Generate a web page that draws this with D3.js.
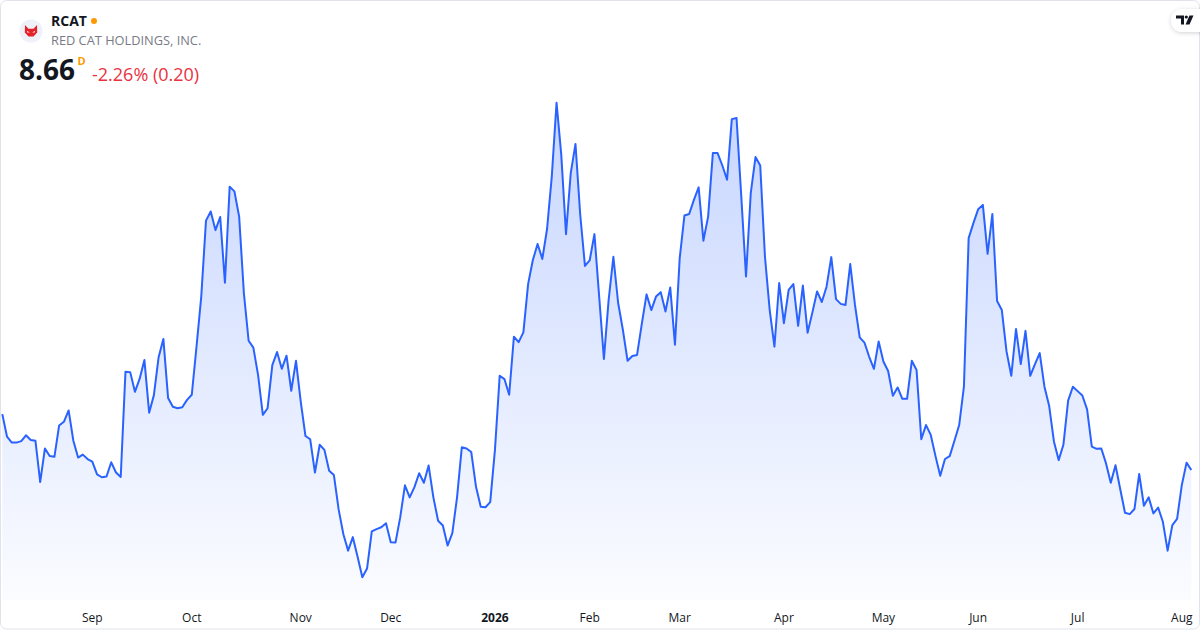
<!DOCTYPE html>
<html>
<head>
<meta charset="utf-8">
<script src="https://cdn.jsdelivr.net/npm/d3@7"></script>
<style>
  html, body { margin: 0; padding: 0; background: #ffffff; }
  svg { display: block; font-family: "Open Sans", "Noto Sans", "DejaVu Sans", sans-serif; }
</style>
</head>
<body>
<svg id="chart" width="1200" height="630"></svg>
<script>
// ---- Data (daily closes) ----
const symbol = "RCAT";
const companyName = "RED CAT HOLDINGS, INC.";
const lastPrice = "8.66";
const intervalLabel = "D";
const changeLabel = "-2.26% (0.20)";

const startDate = "2025-08-05";
const marketHolidays = ["2025-09-01","2025-11-27","2025-12-25","2026-01-01","2026-01-19",
                        "2026-02-16","2026-04-03","2026-05-25","2026-06-19","2026-07-03"];
const monthLabels = ["Jan","Feb","Mar","Apr","May","Jun","Jul","Aug","Sep","Oct","Nov","Dec"];

const closes = [
  10.19, 9.57, 9.41, 9.41, 9.45, 9.61, 9.48, 9.46, 8.33, 9.25,
  9.04, 9.02, 9.88, 9.98, 10.29, 9.46, 9.00, 9.08, 8.96, 8.89,
  8.54, 8.46, 8.48, 8.87, 8.59, 8.47, 11.35, 11.34, 10.80, 11.16,
  11.67, 10.23, 10.71, 11.75, 12.25, 10.63, 10.39, 10.35, 10.38, 10.58,
  10.72, 12.04, 13.41, 15.49, 15.74, 15.23, 15.59, 13.79, 16.42, 16.29,
  15.60, 13.50, 12.20, 12.01, 11.26, 10.17, 10.35, 11.53, 11.89, 11.43,
  11.79, 10.83, 11.65, 10.53, 9.59, 9.50, 8.59, 9.35, 9.21, 8.64,
  8.52, 7.58, 6.90, 6.45, 6.82, 6.28, 5.72, 5.96, 6.98, 7.04,
  7.09, 7.20, 6.68, 6.67, 7.36, 8.24, 7.91, 8.19, 8.57, 8.31,
  8.78, 7.91, 7.27, 7.14, 6.59, 6.93, 7.91, 9.28, 9.25, 9.15,
  8.20, 7.65, 7.64, 7.78, 9.21, 11.24, 11.15, 10.72, 12.31, 12.16,
  12.43, 13.75, 14.41, 14.85, 14.44, 15.26, 16.70, 18.72, 17.29, 15.12,
  16.79, 17.59, 15.65, 14.25, 14.40, 15.12, 13.41, 11.70, 13.32, 14.50,
  13.24, 12.50, 11.65, 11.78, 11.81, 12.66, 13.47, 13.04, 13.41, 13.53,
  13.00, 13.66, 12.09, 14.46, 15.63, 15.67, 16.06, 16.40, 14.94, 15.60,
  17.34, 17.34, 17.00, 16.61, 18.27, 18.30, 16.15, 13.96, 16.24, 17.23,
  17.00, 14.50, 13.04, 12.04, 13.78, 12.68, 13.59, 13.75, 12.61, 13.71,
  12.42, 12.97, 13.55, 13.26, 13.68, 14.49, 13.34, 13.21, 13.18, 14.30,
  13.18, 12.29, 12.15, 11.76, 11.43, 12.18, 11.63, 11.37, 10.69, 10.92,
  10.61, 10.61, 11.65, 11.40, 9.50, 9.89, 9.62, 9.04, 8.50, 8.96,
  9.04, 9.46, 9.89, 10.94, 15.01, 15.42, 15.80, 15.92, 14.58, 15.67,
  13.29, 13.04, 11.90, 11.24, 12.52, 11.56, 12.47, 11.24, 11.56, 11.86,
  10.94, 10.41, 9.44, 8.93, 9.35, 10.56, 10.94, 10.82, 10.70, 10.32,
  9.30, 9.24, 9.25, 8.84, 8.31, 8.79, 8.13, 7.49, 7.45, 7.59,
  8.55, 7.68, 7.91, 7.47, 7.63, 7.24, 6.45, 7.15, 7.32, 8.25,
  8.86, 8.66
];

// ---- Trading-day calendar ----
const holidaySet = new Set(marketHolidays);
const fmt = d3.utcFormat("%Y-%m-%d");
const dates = [];
for (let d = new Date(startDate + "T00:00:00Z"); dates.length < closes.length; d = d3.utcDay.offset(d, 1)) {
  const wd = d.getUTCDay();
  if (wd === 0 || wd === 6 || holidaySet.has(fmt(d))) continue;
  dates.push(new Date(d));
}
const data = closes.map((v, i) => ({ i, date: dates[i], value: v }));

// ---- Layout ----
const W = 1200, H = 630;
const svg = d3.select("#chart");

const x = d3.scaleLinear().domain([0, closes.length - 1]).range([2.3, 1191.3]);
const y = d3.scaleLinear().domain(d3.extent(closes)).range([577.3, 102.7]);
const areaBase = 600;

// frame
svg.append("rect")
  .attr("x", 0.5).attr("y", 0.5).attr("width", W - 1).attr("height", H - 1.5)
  .attr("rx", 6).attr("fill", "#ffffff").attr("stroke", "#e0e3eb");

const defs = svg.append("defs");
const grad = defs.append("linearGradient").attr("id", "areaGrad")
  .attr("gradientUnits", "userSpaceOnUse")
  .attr("x1", 0).attr("x2", 0).attr("y1", 102).attr("y2", areaBase);
grad.append("stop").attr("offset", "0%").attr("stop-color", "#2962ff").attr("stop-opacity", 0.26);
grad.append("stop").attr("offset", "100%").attr("stop-color", "#2962ff").attr("stop-opacity", 0.02);

const filt = defs.append("filter").attr("id", "shadow").attr("x", "-50%").attr("y", "-50%").attr("width", "200%").attr("height", "200%");
filt.append("feDropShadow").attr("dx", 0).attr("dy", 1).attr("stdDeviation", 2).attr("flood-color", "#000").attr("flood-opacity", 0.18);

// area + line
svg.append("path").datum(data)
  .attr("fill", "url(#areaGrad)")
  .attr("d", d3.area().x(d => x(d.i)).y0(areaBase).y1(d => y(d.value)));

svg.append("path").datum(data)
  .attr("fill", "none").attr("stroke", "#2962ff").attr("stroke-width", 2)
  .attr("stroke-linejoin", "round")
  .attr("d", d3.line().x(d => x(d.i)).y(d => y(d.value)));

// x-axis month labels
const ticks = data.filter((d, k) => k > 0 && d.date.getUTCMonth() !== data[k - 1].date.getUTCMonth());
svg.append("g").selectAll("text").data(ticks).join("text")
  .attr("x", d => x(d.i)).attr("y", 621.5)
  .attr("text-anchor", "middle")
  .attr("font-size", 12)
  .attr("font-weight", d => d.date.getUTCMonth() === 0 ? 700 : 400)
  .attr("fill", "#131722")
  .text(d => d.date.getUTCMonth() === 0 ? String(d.date.getUTCFullYear()) : monthLabels[d.date.getUTCMonth()]);

// ---- Header ----
const logo = svg.append("g").attr("transform", "translate(31,31)");
logo.append("circle").attr("r", 11.5).attr("fill", "#eef1f8");
logo.append("path")
  .attr("d", "M-6,-6 L-2.5,-2.2 L2.5,-2.2 L6,-6 L6.2,1.5 L2.5,5.5 L-2.5,5.5 L-6.2,1.5 Z")
  .attr("fill", "#e3222b");
logo.append("path").attr("d", "M-4.2,-0.2 L-1.2,1.4 L-3.6,1.6 Z").attr("fill", "#ffffff");
logo.append("path").attr("d", "M4.2,-0.2 L1.2,1.4 L3.6,1.6 Z").attr("fill", "#ffffff");

svg.append("text").attr("x", 51).attr("y", 26)
  .attr("font-size", 14).attr("font-weight", 700).attr("fill", "#131722").text(symbol);
svg.append("circle").attr("cx", 94).attr("cy", 21).attr("r", 3).attr("fill", "#ff9800");
svg.append("text").attr("x", 51).attr("y", 45)
  .attr("font-size", 12.8).attr("fill", "#787b86").text(companyName);

svg.append("text").attr("x", 19).attr("y", 80)
  .attr("font-size", 28).attr("font-weight", 700).attr("fill", "#131722").text(lastPrice);
svg.append("text").attr("x", 77.5).attr("y", 65)
  .attr("font-size", 11).attr("font-weight", 700).attr("fill", "#ff9800").text(intervalLabel);
svg.append("text").attr("x", 92).attr("y", 80.5)
  .attr("font-size", 18).attr("fill", "#e8323f").text(changeLabel);

// TradingView badge
const tv = svg.append("g");
tv.append("rect").attr("x", 1171).attr("y", 9).attr("width", 45).attr("height", 23).attr("rx", 11.5)
  .attr("fill", "#ffffff").attr("filter", "url(#shadow)");
tv.append("path").attr("d", "M1176,15.5 H1184 V24.5 H1181 V18.5 H1176 Z").attr("fill", "#131722");
tv.append("circle").attr("cx", 1186.3).attr("cy", 17).attr("r", 1.6).attr("fill", "#131722");
tv.append("path").attr("d", "M1189.5,15.5 H1193.5 L1189.5,24.5 H1185.5 Z").attr("fill", "#131722");
</script>
</body>
</html>
